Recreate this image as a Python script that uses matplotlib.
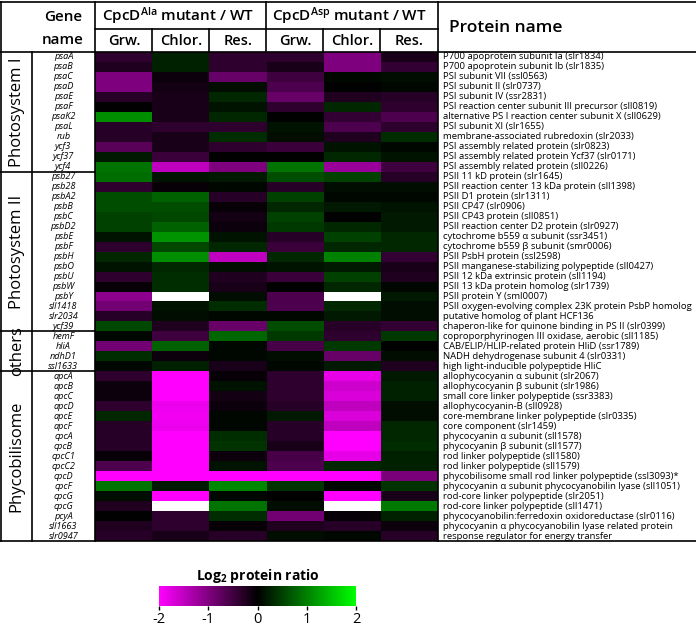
import numpy as np
import matplotlib
matplotlib.use('Agg')
import matplotlib.pyplot as plt
from matplotlib.colors import LinearSegmentedColormap
from matplotlib.transforms import blended_transform_factory

plt.rcParams['font.family'] = ['Open Sans', 'DejaVu Sans']
plt.rcParams['axes.unicode_minus'] = False
plt.rcParams['mathtext.fontset'] = 'custom'
plt.rcParams['mathtext.rm'] = 'Open Sans'
plt.rcParams['mathtext.bf'] = 'Open Sans:bold'
plt.rcParams['mathtext.default'] = 'regular'

# ---- data ----
genes = ['psaA', 'psaB', 'psaC', 'psaD', 'psaE', 'psaF', 'psaK2', 'psaL', 'rub', 'ycf3', 'ycf37', 'ycf4',
         'psb27', 'psb28', 'psbA2', 'psbB', 'psbC', 'psbD2', 'psbE', 'psbF', 'psbH', 'psbO', 'psbU', 'psbW',
         'psbY', 'sll1418', 'slr2034', 'ycf39',
         'hemF', 'hliA', 'ndhD1', 'ssl1633',
         'apcA', 'apcB', 'apcC', 'apcD', 'apcE', 'apcF', 'cpcA', 'cpcB', 'cpcC1', 'cpcC2', 'cpcD', 'cpcF',
         'cpcG', 'cpcG', 'pcyA', 'sll1663', 'slr0947']

proteins = ['P700 apoprotein subunit Ia (slr1834)',
            'P700 apoprotein subunit Ib (slr1835)',
            'PSI subunit VII (ssl0563)',
            'PSI subunit II (slr0737)',
            'PSI subunit IV (ssr2831)',
            'PSI reaction center subunit III precursor (sll0819)',
            'alternative PS I reaction center subunit X (sll0629)',
            'PSI subunit XI (slr1655)',
            'membrane-associated rubredoxin (slr2033)',
            'PSI assembly related protein (slr0823)',
            'PSI assembly related protein Ycf37 (slr0171)',
            'PSI assembly related protein (sll0226)',
            'PSII 11 kD protein (slr1645)',
            'PSII reaction center 13 kDa protein (sll1398)',
            'PSII D1 protein (slr1311)',
            'PSII CP47 (slr0906)',
            'PSII CP43 protein (sll0851)',
            'PSII reaction center D2 protein (slr0927)',
            'cytochrome b559 α subunit (ssr3451)',
            'cytochrome b559 β subunit (smr0006)',
            'PSII PsbH protein (ssl2598)',
            'PSII manganese-stabilizing polypeptide (sll0427)',
            'PSII 12 kDa extrinsic protein (sll1194)',
            'PSII 13 kDa protein homolog (slr1739)',
            'PSII protein Y (sml0007)',
            'PSII oxygen-evolving complex 23K protein PsbP homolog',
            'putative homolog of plant HCF136',
            'chaperon-like for quinone binding in PS II (slr0399)',
            'coproporphyrinogen III oxidase, aerobic (sll1185)',
            'CAB/ELIP/HLIP-related protein HliD (ssr1789)',
            'NADH dehydrogenase subunit 4 (slr0331)',
            'high light-inducible polypeptide HliC',
            'allophycocyanin α subunit (slr2067)',
            'allophycocyanin β subunit (slr1986)',
            'small core linker polypeptide (ssr3383)',
            'allophycocyanin-B (sll0928)',
            'core-membrane linker polypeptide (slr0335)',
            'core component (slr1459)',
            'phycocyanin α subunit (sll1578)',
            'phycocyanin β subunit (sll1577)',
            'rod linker polypeptide (sll1580)',
            'rod linker polypeptide (sll1579)',
            'phycobilisome small rod linker polypeptide (ssl3093)*',
            'phycocyanin α subunit phycocyanobilin lyase (sll1051)',
            'rod-core linker polypeptide (slr2051)',
            'rod-core linker polypeptide (sll1471)',
            'phycocyanobilin:ferredoxin oxidoreductase (slr0116)',
            'phycocyanin α phycocyanobilin lyase related protein',
            'response regulator for energy transfer']

groups = ['Photosystem I', 'Photosystem II', 'others', 'Phycobilisome']
group_sizes = [12, 16, 4, 17]
conditions = ['Grw.', 'Chlor.', 'Res.']
mutants = ['CpcD$^{Ala}$ mutant / WT', 'CpcD$^{Asp}$ mutant / WT']

nan = np.nan
ala_grw = [-0.35, -0.25, -1.0, -1.0, -0.3, 0.0, 1.1, -0.3, -0.3, -0.7, 0.2, 0.9,
           0.85, -0.35, 0.6, 0.6, 0.5, 0.5, 0.15, -0.35, 0.3, 0.15, -0.35, -0.05,
           -1.1, -0.9, -0.3, 0.55,
           0.05, -0.9, 0.35, 0.05,
           -0.35, -0.1, -0.1, -0.35, 0.3, -0.3, -0.3, -0.3, -0.05, -0.6, -2.0, 0.9,
           0.1, -0.25, 0.0, -0.25, -0.3]
ala_chl = [0.25, 0.25, -0.1, -0.15, -0.2, -0.2, -0.2, -0.35, -0.2, -0.2, -0.45, -1.5,
           0.15, -0.05, 0.75, 0.6, 0.55, 0.75, 1.15, 0.55, 1.1, 0.3, 0.35, 0.35,
           nan, 0.15, 0.1, -0.25,
           -0.5, 0.75, -0.1, 0.25,
           -2.0, -2.0, -2.0, -1.85, -1.9, -1.85, -2.0, -2.0, -2.0, -2.0, -2.0, 0.2,
           -2.0, nan, -0.35, -0.35, -0.2]
ala_res = [-0.35, -0.35, -0.8, 0.1, 0.3, 0.15, 0.3, -0.35, 0.35, -0.35, 0.0, -1.0,
           0.2, 0.05, -0.3, -0.05, -0.15, -0.1, 0.15, 0.3, -1.5, 0.1, -0.25, -0.2,
           0.1, 0.35, 0.05, -0.8,
           0.8, 0.05, 0.05, -0.2,
           -0.05, 0.15, -0.15, -0.1, 0.05, 0.05, 0.35, 0.4, -0.1, 0.15, -2.0, 1.05,
           0.05, 0.9, 0.35, -0.05, -0.3]
asp_grw = [-0.35, -0.2, -0.5, -0.6, -0.8, -0.35, 0.0, 0.15, 0.1, -0.45, 0.0, 0.9,
           0.6, -0.3, 0.5, 0.3, 0.5, 0.45, -0.3, -0.45, 0.3, 0.15, -0.45, 0.0,
           -0.6, -0.6, 0.05, 0.6,
           0.45, -0.55, 0.1, 0.05,
           -0.35, -0.35, -0.35, -0.3, 0.2, -0.3, -0.3, -0.2, -0.55, -0.6, -2.0, 0.4,
           0.0, 0.1, -0.9, -0.25, 0.1]
asp_chl = [-1.0, -1.0, 0.05, 0.0, -0.25, 0.3, -0.4, -0.6, -0.25, 0.15, 0.3, -1.2,
           0.5, 0.1, 0.05, 0.2, 0.0, 0.3, 0.5, 0.3, 1.0, 0.2, 0.5, 0.3,
           nan, 0.3, 0.2, -0.3,
           -0.35, 0.45, -0.8, 0.2,
           -1.8, -1.6, -1.7, -1.5, -1.7, -1.5, -2.0, -2.0, -1.8, 0.3, -2.0, 0.05,
           -2.0, nan, -0.05, -0.3, 0.05]
asp_res = [-0.2, -0.4, 0.1, 0.05, -0.3, -0.35, -0.6, -0.35, 0.35, 0.05, 0.15, -0.5,
           -0.3, 0.1, 0.05, 0.15, 0.2, 0.2, 0.3, 0.3, -0.4, -0.2, -0.25, 0.05,
           0.2, 0.1, 0.1, -0.4,
           0.45, 0.0, 0.1, -0.25,
           0.2, 0.25, 0.25, 0.1, 0.1, 0.3, 0.3, 0.35, 0.25, 0.25, -0.95, 0.4,
           -0.2, 0.95, 0.25, -0.1, -0.3]

# ---- figure ----
W, H = 696, 626
fig = plt.figure(figsize=(W / 100, H / 100), dpi=100)


def px_axes(x0, y0, x1, y1):
    return fig.add_axes([x0 / W, 1 - y1 / H, (x1 - x0) / W, (y1 - y0) / H])


cmap = LinearSegmentedColormap.from_list('mg', ['#ff00ff', '#000000', '#00ff00'])
cmap.set_bad('white')

data = np.array([ala_grw, ala_chl, ala_res, asp_grw, asp_chl, asp_res]).T
nrows = len(genes)

ax = px_axes(95, 52, 438, 541)
mesh = ax.pcolormesh(np.ma.masked_invalid(data), cmap=cmap, vmin=-2, vmax=2)
ax.set_xlim(0, 6)
ax.set_ylim(nrows, 0)
ax.set_axis_off()

tr = blended_transform_factory(ax.transAxes, ax.transData)
for i, (g, p) in enumerate(zip(genes, proteins)):
    ax.text(-0.092, i + 0.5, g, transform=tr, ha='center', va='center',
            style='italic', fontsize=6.6)
    ax.text(1.015, i + 0.5, p, transform=tr, ha='left', va='center',
            fontsize=6.8)

# group labels + separators
start = 0
for name, n in zip(groups, group_sizes):
    ax.text(-0.228, start + n / 2, name, transform=tr, rotation=90,
            ha='center', va='center', fontsize=12)
    start += n
    if start < nrows:
        ax.plot([-0.277, 0], [start, start], color='black', lw=1.2,
                transform=tr, clip_on=False)

# table lines / header on a pixel overlay
ov = fig.add_axes([0, 0, 1, 1], zorder=5)
ov.set_xlim(0, W)
ov.set_ylim(H, 0)
ov.set_axis_off()
lc = dict(color='black', lw=1.2, solid_capstyle='projecting')
ov.plot([0, W], [2, 2], **lc)
ov.plot([0, W], [52, 52], **lc)
ov.plot([0, W], [541, 541], **lc)
ov.plot([1, 1], [2, 541], **lc)
ov.plot([32, 32], [52, 541], **lc)
ov.plot([95, 95], [2, 541], **lc)
ov.plot([438, 438], [2, 541], **lc)
ov.plot([266, 266], [2, 52], **lc)
ov.plot([95, 438], [29, 29], **lc)
for x in [152, 209, 323, 380]:
    ov.plot([x, x], [29, 52], **lc)

hdr = dict(ha='center', va='center', fontweight='semibold')
ov.text(63, 17, 'Gene', fontsize=11, **hdr)
ov.text(63, 40, 'name', fontsize=11, **hdr)
ov.text(178, 16, mutants[0], fontsize=11, **hdr)
ov.text(349, 16, mutants[1], fontsize=11, **hdr)
col_centers = [124, 181, 238, 295, 352, 409]
for k, cx in enumerate(col_centers):
    ov.text(cx, 41, conditions[k % 3], fontsize=10.5, **hdr)
ov.text(449, 28, 'Protein name', fontsize=12.5, ha='left', va='center',
        fontweight='semibold')

# colorbar
cax = px_axes(159, 586, 356, 606)
cb = fig.colorbar(mesh, cax=cax, orientation='horizontal', ticks=[-2, -1, 0, 1, 2])
cb.outline.set_visible(False)
cax.tick_params(labelsize=10.5, length=3, width=1, pad=1)
cax.set_title('Log$_\\mathbf{2}$ protein ratio', fontsize=10, fontweight='bold', pad=4)

fig.savefig('out.png', dpi=100)
